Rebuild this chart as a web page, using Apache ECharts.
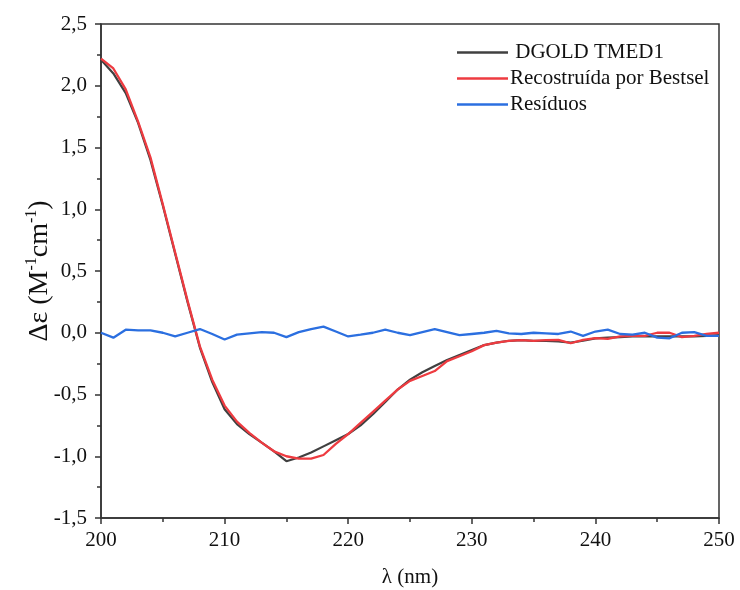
<!DOCTYPE html>
<html><head><meta charset="utf-8">
<script src="https://cdn.jsdelivr.net/npm/echarts@6/dist/echarts.min.js"></script>
<style>html,body{margin:0;padding:0;background:#fff}#c{width:740px;height:590px}</style>
</head><body><div id="c"></div>
<script>
const wavelengths = [200,201,202,203,204,205,206,207,208,209,210,211,212,213,214,215,216,217,218,219,220,221,222,223,224,225,226,227,228,229,230,231,232,233,234,235,236,237,238,239,240,241,242,243,244,245,246,247,248,249,250];
const dgold = [2.21,2.10,1.94,1.70,1.40,1.03,0.64,0.25,-0.12,-0.40,-0.62,-0.74,-0.82,-0.89,-0.96,-1.04,-1.01,-0.97,-0.92,-0.87,-0.82,-0.75,-0.66,-0.56,-0.46,-0.38,-0.32,-0.27,-0.22,-0.18,-0.14,-0.10,-0.08,-0.065,-0.06,-0.065,-0.065,-0.07,-0.08,-0.065,-0.045,-0.04,-0.035,-0.03,-0.03,-0.03,-0.03,-0.03,-0.03,-0.025,-0.02];
const bestsel = [2.22,2.14,1.97,1.71,1.42,1.04,0.65,0.26,-0.11,-0.38,-0.59,-0.72,-0.81,-0.89,-0.96,-1.00,-1.02,-1.02,-0.99,-0.90,-0.82,-0.73,-0.64,-0.55,-0.46,-0.39,-0.35,-0.31,-0.23,-0.19,-0.15,-0.10,-0.08,-0.065,-0.06,-0.065,-0.06,-0.057,-0.085,-0.057,-0.043,-0.05,-0.03,-0.025,-0.025,0.0,0.0,-0.035,-0.025,-0.01,0.0];
const residuos = [0.0,-0.04,0.025,0.02,0.02,0.0,-0.03,0.0,0.03,-0.01,-0.055,-0.015,-0.005,0.005,0.0,-0.035,0.005,0.03,0.05,0.01,-0.03,-0.016,0.0,0.025,0.0,-0.02,0.005,0.03,0.005,-0.02,-0.01,0.0,0.015,-0.005,-0.01,0.0,-0.005,-0.01,0.01,-0.025,0.01,0.025,-0.01,-0.015,0.0,-0.04,-0.045,0.0,0.005,-0.025,-0.025];
const seriesNames = [' DGOLD TMED1','Recostruída por Bestsel','Resíduos'];
const xTicks = {min:200,max:250,interval:10};
const yTicks = {min:-1.5,max:2.5,interval:0.5};

const pair = arr => wavelengths.map((w,i)=>[w,arr[i]]);
const font = 'Liberation Serif';
const axisColor = '#333';
const chart = echarts.init(document.getElementById('c'));
chart.setOption({
  animation:false,
  textStyle:{fontFamily:font},
  grid:{left:101,right:21,top:24,bottom:72,outerBoundsMode:'none',containLabel:false,show:true,borderColor:axisColor,borderWidth:1.5,backgroundColor:'transparent'},
  legend:{
    orient:'vertical',left:452,top:37,itemWidth:51,itemHeight:2.5,itemGap:5,icon:'rect',
    textStyle:{fontFamily:font,fontSize:21,color:'#111',padding:[0,0,0,-3]},
    data:seriesNames
  },
  xAxis:{
    type:'value',min:xTicks.min,max:xTicks.max,interval:xTicks.interval,
    name:'λ (nm)',nameLocation:'middle',nameGap:49,nameMoveOverlap:false,
    nameTextStyle:{fontFamily:font,fontSize:21,color:'#111'},
    axisLine:{show:true,onZero:false,lineStyle:{color:axisColor,width:1.5}},
    axisTick:{show:true,inside:false,length:6,lineStyle:{color:axisColor,width:1.5}},
    minorTick:{show:true,splitNumber:2,length:4,lineStyle:{color:axisColor,width:1.5}},
    axisLabel:{fontFamily:font,fontSize:21,color:'#111',margin:12},
    splitLine:{show:false}
  },
  yAxis:{
    type:'value',min:yTicks.min,max:yTicks.max,interval:yTicks.interval,
    name:'{a|Δε (M}{s|-1}{a|cm}{s|-1}{a|)}',nameLocation:'middle',nameGap:47,nameRotate:90,nameMoveOverlap:false,
    nameTextStyle:{rich:{
      a:{fontFamily:font,fontSize:28,color:'#111',lineHeight:30,verticalAlign:'bottom'},
      s:{fontFamily:font,fontSize:16,color:'#111',lineHeight:30,verticalAlign:'top',padding:[0,0,11,0]}
    }},
    axisLine:{show:true,onZero:false,lineStyle:{color:axisColor,width:1.5}},
    axisTick:{show:true,inside:false,length:6,lineStyle:{color:axisColor,width:1.5}},
    minorTick:{show:true,splitNumber:2,length:4,lineStyle:{color:axisColor,width:1.5}},
    axisLabel:{fontFamily:font,fontSize:21,color:'#111',margin:14,
      formatter:v=>v.toFixed(1).replace('.',',')},
    splitLine:{show:false}
  },
  series:[
    {name:seriesNames[0],type:'line',data:pair(dgold),symbol:'none',color:'#404040',lineStyle:{width:2.2,color:'#404040'}},
    {name:seriesNames[1],type:'line',data:pair(bestsel),symbol:'none',color:'#ee3b40',lineStyle:{width:2.3,color:'#ee3b40'}},
    {name:seriesNames[2],type:'line',data:pair(residuos),symbol:'none',color:'#2b6fe0',lineStyle:{width:2.3,color:'#2b6fe0'}}
  ]
});
</script></body></html>
